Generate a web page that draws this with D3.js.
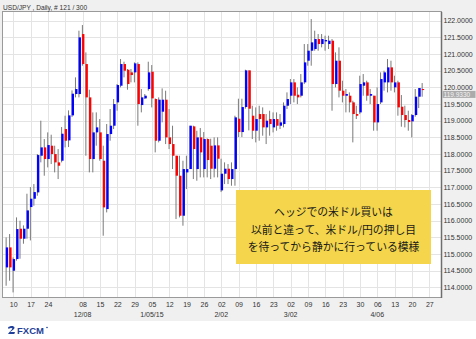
<!DOCTYPE html>
<html>
<head>
<meta charset="utf-8">
<script src="https://cdn.jsdelivr.net/npm/d3@7"></script>
<style>
  body { margin: 0; background: #fff; }
  svg { display: block; font-family: "Liberation Sans", Arial, sans-serif; }
</style>
</head>
<body>
<div id="chart"></div>
<script>
// daily USD/JPY candles, Nov 6 2014 .. Apr 2015 (one per trading day)
var opens = [114.60,115.20,114.50,114.85,115.76,115.46,115.76,116.41,116.66,116.85,
  117.95,118.20,117.85,118.25,118.00,117.75,117.80,118.75,118.41,119.16,
  119.80,119.80,121.60,120.70,119.70,117.85,118.65,118.65,117.80,116.35,
  118.60,118.85,119.55,120.05,120.70,120.53,120.45,120.45,120.70,119.47,
  119.67,119.95,120.47,119.65,118.40,119.27,119.63,118.50,118.30,117.95,
  117.35,116.15,117.45,117.55,118.83,117.55,118.50,117.55,118.45,118.25,
  117.56,118.26,116.91,117.41,117.56,117.25,117.55,119.06,118.66,119.41,
  120.51,119.15,118.70,119.20,119.20,118.80,119.05,118.80,119.05,118.85,
  118.90,119.45,119.75,120.15,119.78,119.75,120.15,120.80,121.10,121.15,
  121.45,121.30,121.38,121.30,121.40,120.10,120.80,119.90,119.75,119.75,
  119.55,119.20,119.25,120.05,120.15,119.75,119.75,118.95,119.55,120.15,
  120.15,120.60,120.00,120.15,119.42,119.17,119.02,118.98,119.17,119.72,
  119.95];
var highs = [115.50,115.60,114.90,116.10,116.00,115.86,116.81,117.01,117.10,118.00,
  119.00,118.45,118.65,118.58,118.25,118.15,118.81,119.15,119.31,119.91,
  120.30,121.70,121.87,121.05,119.93,119.25,119.25,119.05,118.25,118.90,
  119.35,119.65,120.10,120.85,120.77,120.55,120.55,120.75,120.75,119.95,
  119.80,120.77,120.67,119.67,119.70,119.97,119.90,119.35,118.85,117.95,
  117.95,117.80,117.95,118.85,118.85,118.70,118.78,118.66,118.47,118.46,
  118.50,118.50,117.86,117.75,117.70,117.75,119.15,119.66,119.66,120.53,
  120.51,119.45,119.40,119.45,119.40,119.20,119.30,119.25,119.25,119.20,
  119.55,119.85,120.25,120.25,120.00,120.40,121.30,121.30,122.05,121.70,
  121.60,121.60,121.55,121.55,121.45,121.05,121.20,120.20,119.95,119.85,
  119.60,119.45,120.35,120.40,120.20,119.95,119.75,120.00,120.45,120.50,
  120.85,120.80,120.35,120.20,119.77,119.45,119.30,119.20,119.95,119.98,
  120.13];
var lows = [114.05,114.20,113.85,114.80,114.86,115.31,115.46,115.41,116.45,116.75,
  117.75,117.35,117.60,117.70,117.45,117.25,117.75,118.20,118.21,119.11,
  119.70,119.70,120.65,117.95,117.45,117.45,118.25,117.80,115.55,116.25,
  118.40,118.75,119.30,120.00,120.30,119.93,120.15,120.15,118.85,119.25,
  119.65,119.90,119.40,118.05,118.35,118.95,118.30,118.15,117.55,116.05,
  116.10,115.85,116.95,117.55,117.25,117.20,117.30,117.30,117.30,117.25,
  117.30,117.30,116.86,117.10,117.10,117.05,117.05,118.51,118.51,119.36,
  118.71,118.45,118.35,118.40,118.55,118.30,118.55,118.65,118.70,118.75,
  118.80,119.35,119.50,119.55,119.50,119.70,120.10,120.65,120.65,121.10,
  121.10,121.20,121.10,121.15,119.30,120.00,119.70,119.55,119.25,119.25,
  118.35,119.05,119.20,119.75,119.60,119.50,118.70,118.70,119.50,119.90,
  119.85,119.90,119.85,119.15,118.82,118.80,118.70,118.50,119.12,119.38,
  119.72];
var closes = [115.20,114.60,114.85,115.75,115.46,115.76,116.31,116.66,116.86,117.97,
  118.20,117.85,118.27,118.00,117.75,117.65,118.61,118.40,119.16,119.81,
  119.95,121.50,120.70,119.70,117.85,118.65,118.80,117.85,116.40,118.60,
  118.85,119.50,120.07,120.70,120.50,120.10,120.37,120.72,119.50,119.70,
  119.75,120.45,119.67,118.40,119.63,119.63,118.50,118.30,117.95,117.35,
  116.15,117.55,117.55,118.85,118.15,118.50,118.05,118.45,117.82,117.56,
  118.26,117.86,117.41,117.56,117.25,117.55,119.10,118.66,119.41,120.51,
  119.36,118.70,119.05,119.05,118.80,119.00,118.90,119.05,118.85,118.95,
  119.45,119.65,120.15,119.75,119.70,120.15,120.75,121.10,121.35,121.45,
  121.30,121.45,121.42,121.40,120.10,120.80,119.90,119.75,119.80,119.55,
  119.20,119.15,120.10,120.15,119.75,119.80,118.95,119.50,120.25,120.45,
  120.60,120.15,120.15,119.40,119.17,119.02,118.96,119.17,119.72,119.98,
  119.93];

// x axis: Mondays (index in the bar sequence) and their labels
var tickIndex = [2,7,12,17,22,27,32,37,42,47,52,57,62,67,72,77,82,87,92,97,102,107,112,117,122];
var tickDays = ["10","17","24","","08","15","22","29","05","12","19","26","02","09","16","23",
  "02","09","16","23","30","06","13","20","27"];
var monthIndex = [22, 42, 62, 82, 107];
var monthLabels = ["12/08", "1/05/15", "2/02", "3/02", "4/06"];

// y axis ticks
var yTicks = [114,114.5,115,115.5,116,116.5,117,117.5,118,118.5,119,119.5,120,120.5,121,121.5,122];
var lastPrice = 119.933;

var noteLines = ["ヘッジでの米ドル買いは", "以前と違って、米ドル/円の押し目", "を待ってから静かに行っている模様"];

var width = 476, height = 339;
var plot = {left: 3, right: 441, top: 12, bottom: 297};

var svg = d3.select("#chart")
    .append("svg")
    .attr("width", width)
    .attr("height", height);

// backgrounds
svg.append("rect").attr("x", 0).attr("y", 0).attr("width", width).attr("height", 321).attr("fill", "#f0f0f0");
svg.append("rect")
    .attr("x", plot.left).attr("y", plot.top)
    .attr("width", plot.right - plot.left).attr("height", plot.bottom - plot.top)
    .attr("fill", "#fff");

var x = d3.scaleLinear().domain([0, 122]).range([6.33, 429.3]);
var y = d3.scaleLinear().domain([114, 122]).range([287.4, 20.7]);

// grid
svg.append("g").selectAll("line.h")
    .data(yTicks)
  .enter().append("line")
    .attr("x1", plot.left).attr("x2", plot.right)
    .attr("y1", function(d) { return Math.round(y(d)) + 0.5; })
    .attr("y2", function(d) { return Math.round(y(d)) + 0.5; })
    .attr("stroke", "#e4e4e4");

svg.append("g").selectAll("line.v")
    .data(tickIndex)
  .enter().append("line")
    .attr("x1", function(d) { return Math.round(x(d)) + 0.5; })
    .attr("x2", function(d) { return Math.round(x(d)) + 0.5; })
    .attr("y1", plot.top).attr("y2", plot.bottom)
    .attr("stroke", "#e4e4e4");

// candles
var bars = svg.append("g").selectAll("g")
    .data(d3.range(opens.length))
  .enter().append("g");

bars.append("line")
    .attr("x1", function(i) { return x(i) - 0.2; })
    .attr("x2", function(i) { return x(i) - 0.2; })
    .attr("y1", function(i) { return y(highs[i]); })
    .attr("y2", function(i) { return y(lows[i]); })
    .attr("stroke", "#7a7a7a")
    .attr("stroke-width", 1);

bars.append("rect")
    .attr("x", function(i) { return x(i) - 0.5; })
    .attr("width", 2.3)
    .attr("y", function(i) { return y(Math.max(opens[i], closes[i])); })
    .attr("height", function(i) { return Math.max(1, Math.abs(y(opens[i]) - y(closes[i]))); })
    .attr("fill", function(i) { return closes[i] >= opens[i] ? "#0000ff" : "#ff0000"; });

// plot frame
svg.append("rect")
    .attr("x", plot.left - 0.5).attr("y", plot.top - 0.5)
    .attr("width", plot.right - plot.left + 1).attr("height", plot.bottom - plot.top + 1)
    .attr("fill", "none").attr("stroke", "#9a9a9a");
svg.append("line")
    .attr("x1", plot.right + 0.5).attr("x2", plot.right + 0.5)
    .attr("y1", plot.top).attr("y2", plot.bottom + 1)
    .attr("stroke", "#6e6e6e").attr("stroke-width", 1.5);

// right axis
var yAxis = svg.append("g")
    .attr("transform", "translate(" + (plot.right + 1) + ",0)")
    .call(d3.axisRight(y).tickValues(yTicks).tickFormat(d3.format(".4f")).tickSize(0).tickPadding(1.5));
yAxis.select(".domain").remove();
yAxis.selectAll("text").attr("font-size", 7).attr("font-family", "Liberation Sans, Arial").attr("fill", "#333");

// current price marker (pushed just below the 120.0000 label)
var markY = y(lastPrice) + 4.8;
svg.append("rect")
    .attr("x", plot.right + 1.5).attr("y", markY - 3.5)
    .attr("width", 33).attr("height", 7)
    .attr("fill", "#ababab");
svg.append("text")
    .attr("x", plot.right + 2.5).attr("y", markY)
    .attr("dy", "0.33em")
    .attr("font-size", 6.5).attr("fill", "#f4f4f4")
    .text(d3.format(".4f")(lastPrice));

// bottom axis: days, then month row
var xAxis = svg.append("g")
    .attr("transform", "translate(0," + plot.bottom + ")")
    .call(d3.axisBottom(x).tickValues(tickIndex)
        .tickFormat(function(d, i) { return tickDays[i]; })
        .tickSize(0).tickPadding(5));
xAxis.select(".domain").remove();
xAxis.selectAll("text").attr("font-size", 7).attr("font-family", "Liberation Sans, Arial").attr("fill", "#333");

svg.append("g").selectAll("text")
    .data(monthIndex)
  .enter().append("text")
    .attr("x", function(d) { return x(d); })
    .attr("y", 317)
    .attr("text-anchor", "middle")
    .attr("font-size", 7).attr("fill", "#333")
    .text(function(d, i) { return monthLabels[i]; });

// title
svg.append("text")
    .attr("x", 3).attr("y", 9.5)
    .attr("font-size", 6.6).attr("fill", "#333")
    .text("USD/JPY , Daily, # 121 / 300");

// note box
svg.append("rect")
    .attr("x", 236).attr("y", 190)
    .attr("width", 195).attr("height", 74)
    .attr("fill", "#f4d54b");
svg.append("g").selectAll("text")
    .data(noteLines)
  .enter().append("text")
    .attr("x", 333.5)
    .attr("y", function(d, i) { return 216 + i * 17.5; })
    .attr("text-anchor", "middle")
    .attr("font-family", "Noto Sans CJK JP")
    .attr("font-size", 10.8)
    .attr("fill", "#1a1a1a")
    .text(function(d) { return d; });

// FXCM logo
var logo = svg.append("g").attr("transform", "translate(8,326)");
logo.append("path")
    .attr("d", "M0,1.5 C2,-0.5 6,-0.5 6.5,1.5 C6.8,3 4,4.5 2,6 L7,6 L6.3,8 L0,8 C1,6 4,4 4.3,2.6 C4.3,1.8 2,1.6 0.6,3 Z")
    .attr("fill", "#1f3f99");
logo.append("text")
    .attr("x", 9).attr("y", 7.8)
    .attr("font-size", 9.5).attr("font-weight", "bold")
    .attr("fill", "#1f3f99")
    .text("FXCM");
logo.append("circle").attr("cx", 39).attr("cy", 1.5).attr("r", 0.8).attr("fill", "#1f3f99");
</script>
</body>
</html>
